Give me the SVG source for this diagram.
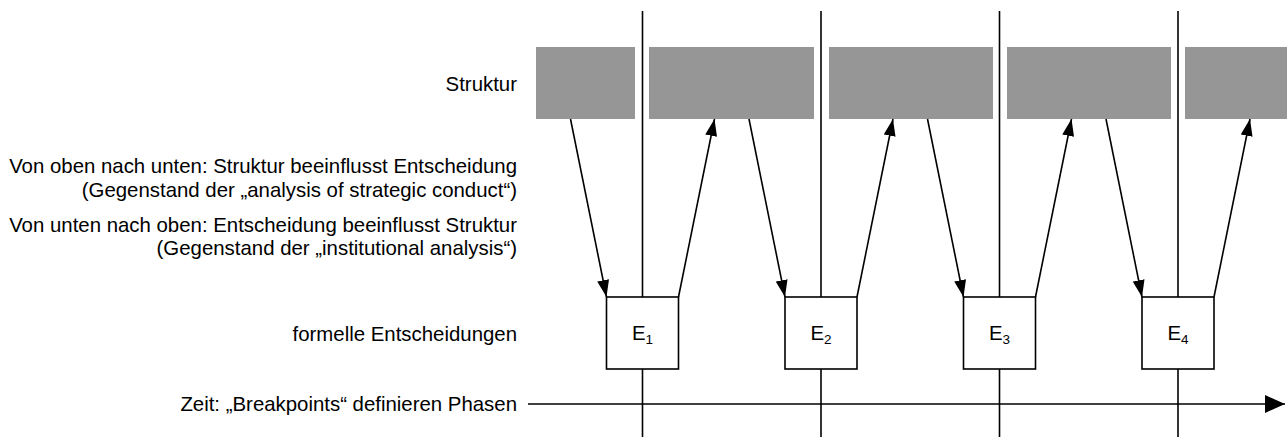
<svg xmlns="http://www.w3.org/2000/svg" width="1287" height="437" viewBox="0 0 1287 437">
  <style>
    text { font-family: "Liberation Sans", Arial, sans-serif; font-size: 20.4px; fill: #000; }
    .lbl { text-anchor: end; }
    .struct { fill: #969696; stroke: none; }
    .phase { stroke: #000; stroke-width: 1.6; fill: none; }
    .dec { fill: #fff; stroke: #000; stroke-width: 1.6; }
    .link { stroke: #000; stroke-width: 1.6; fill: none; marker-end: url(#head); }
    .axis { stroke: #000; stroke-width: 1.6; fill: none; marker-end: url(#axisHead); }
    .sub { font-size: 13.5px; }
  </style>
  <defs>
    <marker id="head" markerUnits="userSpaceOnUse" markerWidth="17" markerHeight="12" refX="17" refY="6" orient="auto">
      <path d="M0,0 L17,6 L0,12 Z" fill="#000"/>
    </marker>
    <marker id="axisHead" markerUnits="userSpaceOnUse" markerWidth="20" markerHeight="18" refX="20" refY="9" orient="auto">
      <path d="M0,0 L20,9 L0,18 Z" fill="#000"/>
    </marker>
  </defs>

  <!-- labels on the left -->
  <g id="labels">
    <text class="lbl" x="517" y="91">Struktur</text>
    <text class="lbl" x="517" y="173">Von oben nach unten: Struktur beeinflusst Entscheidung</text>
    <text class="lbl" x="517" y="197">(Gegenstand der „analysis of strategic conduct“)</text>
    <text class="lbl" x="517" y="232">Von unten nach oben: Entscheidung beeinflusst Struktur</text>
    <text class="lbl" x="517" y="255">(Gegenstand der „institutional analysis“)</text>
    <text class="lbl" x="517" y="341">formelle Entscheidungen</text>
    <text class="lbl" x="517" y="411">Zeit: „Breakpoints“ definieren Phasen</text>
  </g>

  <!-- structure phases (grey bands) -->
  <g id="structure">
    <rect class="struct" x="536" y="47" width="99" height="72"/>
    <rect class="struct" x="649" y="47" width="165" height="72"/>
    <rect class="struct" x="829" y="47" width="164" height="72"/>
    <rect class="struct" x="1007" y="47" width="164" height="72"/>
    <rect class="struct" x="1185" y="47" width="102" height="72"/>
  </g>

  <!-- breakpoints -->
  <g id="breakpoints">
    <line class="phase" x1="642.5" y1="11" x2="642.5" y2="437"/>
    <line class="phase" x1="821" y1="11" x2="821" y2="437"/>
    <line class="phase" x1="999.5" y1="11" x2="999.5" y2="437"/>
    <line class="phase" x1="1178" y1="11" x2="1178" y2="437"/>
  </g>

  <!-- time axis -->
  <g id="time-axis">
    <line class="axis" x1="528" y1="404" x2="1285" y2="404"/>
  </g>

  <!-- connectors between structure and decisions -->
  <g id="connectors">
    <line class="link" x1="570.5" y1="119" x2="606.5" y2="297"/>
    <line class="link" x1="678.5" y1="297" x2="714.5" y2="119"/>
    <line class="link" x1="749" y1="119" x2="785" y2="297"/>
    <line class="link" x1="857" y1="297" x2="893" y2="119"/>
    <line class="link" x1="927.5" y1="119" x2="963.5" y2="297"/>
    <line class="link" x1="1035.5" y1="297" x2="1071.5" y2="119"/>
    <line class="link" x1="1106" y1="119" x2="1142" y2="297"/>
    <line class="link" x1="1214" y1="297" x2="1250" y2="119"/>
  </g>

  <!-- formal decisions -->
  <g id="E1">
    <rect class="dec" x="606.5" y="297" width="72" height="72"/>
    <text x="642.5" y="340" text-anchor="middle">E<tspan class="sub" dy="4">1</tspan></text>
  </g>
  <g id="E2">
    <rect class="dec" x="785" y="297" width="72" height="72"/>
    <text x="821" y="340" text-anchor="middle">E<tspan class="sub" dy="4">2</tspan></text>
  </g>
  <g id="E3">
    <rect class="dec" x="963.5" y="297" width="72" height="72"/>
    <text x="999.5" y="340" text-anchor="middle">E<tspan class="sub" dy="4">3</tspan></text>
  </g>
  <g id="E4">
    <rect class="dec" x="1142" y="297" width="72" height="72"/>
    <text x="1178" y="340" text-anchor="middle">E<tspan class="sub" dy="4">4</tspan></text>
  </g>
</svg>
